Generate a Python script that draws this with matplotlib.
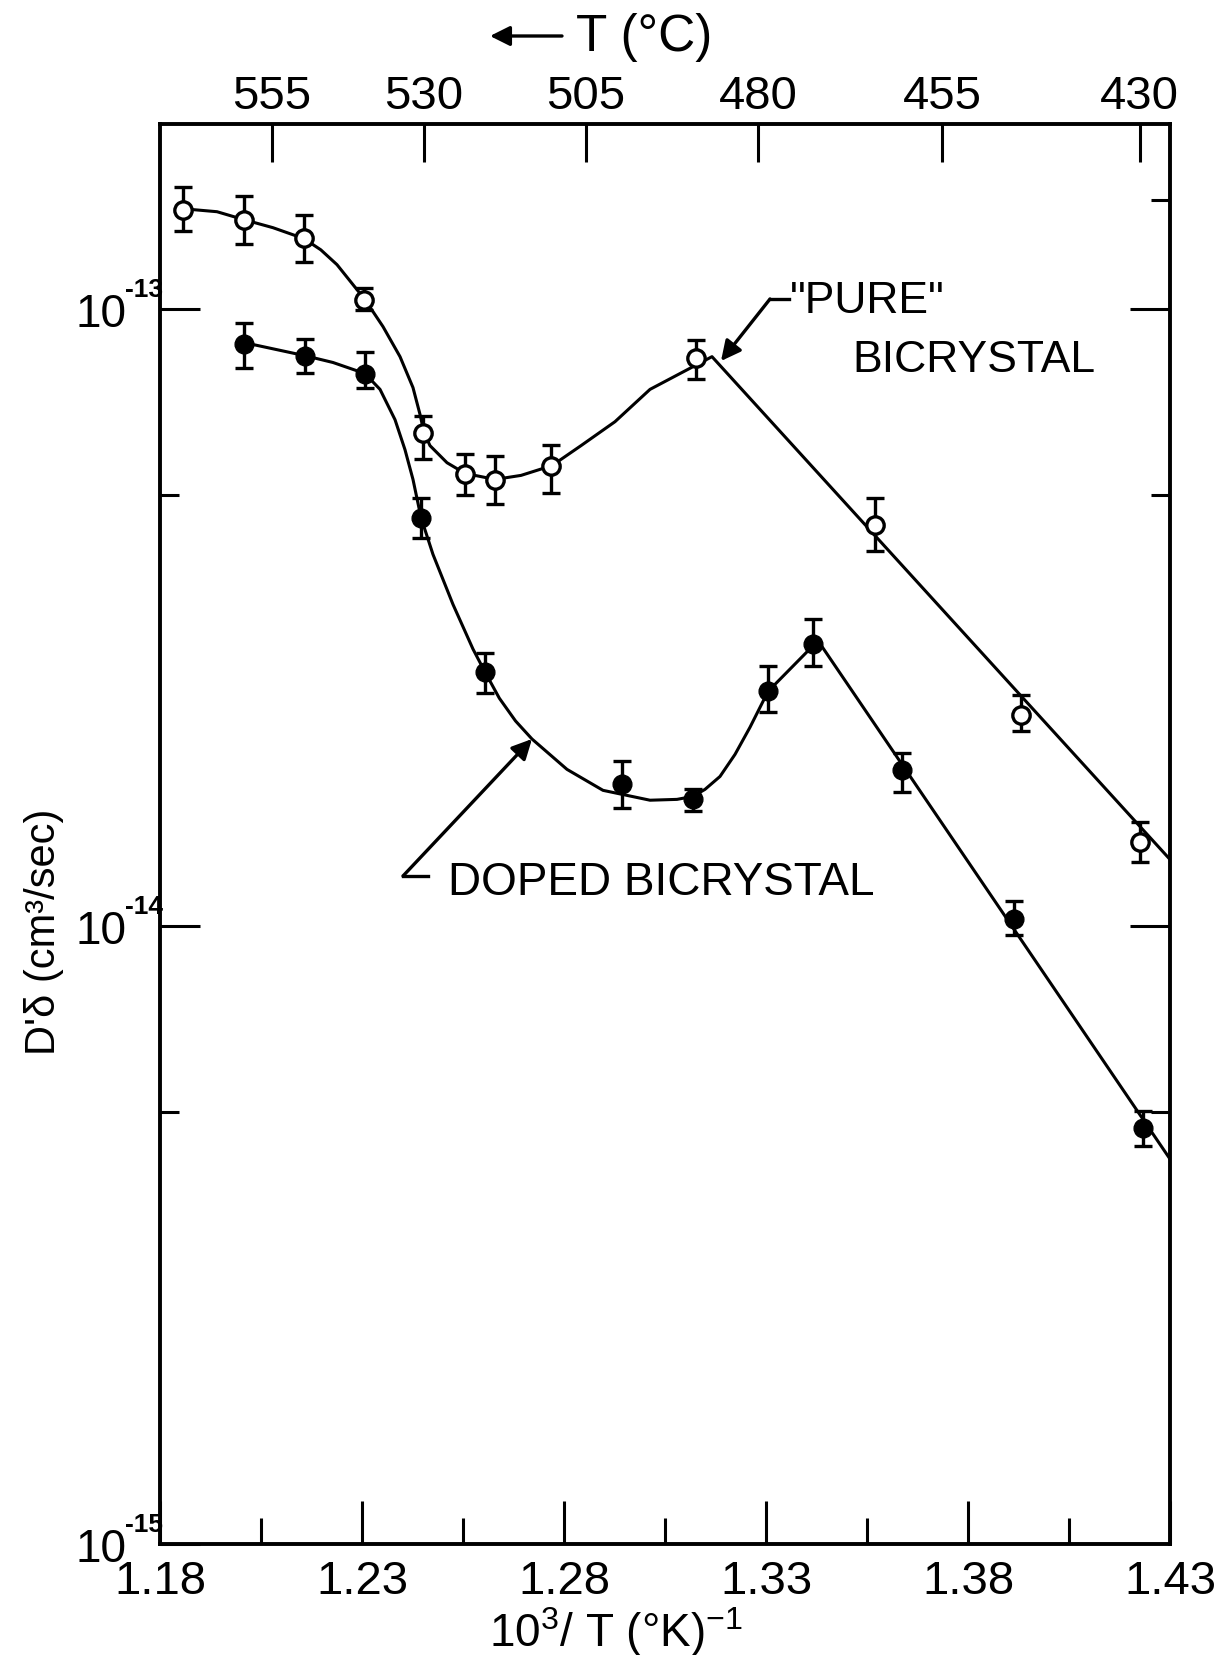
import matplotlib
matplotlib.use("Agg")
import matplotlib.pyplot as plt
from matplotlib.lines import Line2D
from matplotlib.ticker import FixedLocator, NullFormatter

plt.rcParams['font.family'] = ['Liberation Sans', 'DejaVu Sans']
plt.rcParams['mathtext.default'] = 'regular'

# "pure" bicrystal (open circles), x = 10^3/T, y = D'delta with error bar ends
pure_x = [1.1858, 1.2009, 1.2156, 1.2306, 1.2452, 1.2555, 1.2629, 1.2769, 1.3126, 1.3570, 1.3932, 1.4226]
pure_y = [1.446e-13, 1.390e-13, 1.301e-13, 1.034e-13, 6.28e-14, 5.39e-14, 5.27e-14, 5.56e-14, 8.32e-14, 4.47e-14, 2.20e-14, 1.370e-14]
pure_hi = [1.573e-13, 1.523e-13, 1.419e-13, 1.080e-13, 6.69e-14, 5.82e-14, 5.78e-14, 6.01e-14, 8.91e-14, 4.93e-14, 2.37e-14, 1.475e-14]
pure_lo = [1.337e-13, 1.274e-13, 1.188e-13, 9.94e-14, 5.70e-14, 5.00e-14, 4.82e-14, 5.02e-14, 7.69e-14, 4.05e-14, 2.07e-14, 1.269e-14]

# doped bicrystal (filled circles)
doped_x = [1.2009, 1.2159, 1.2307, 1.2447, 1.2605, 1.2943, 1.3120, 1.3306, 1.3417, 1.3636, 1.3914, 1.4233]
doped_y = [8.77e-14, 8.37e-14, 7.85e-14, 4.58e-14, 2.58e-14, 1.697e-14, 1.605e-14, 2.40e-14, 2.86e-14, 1.788e-14, 1.028e-14, 4.72e-15]
doped_hi = [9.46e-14, 8.93e-14, 8.50e-14, 4.94e-14, 2.77e-14, 1.851e-14, 1.666e-14, 2.64e-14, 3.14e-14, 1.909e-14, 1.099e-14, 5.02e-15]
doped_lo = [8.02e-14, 7.87e-14, 7.44e-14, 4.25e-14, 2.39e-14, 1.556e-14, 1.537e-14, 2.22e-14, 2.64e-14, 1.652e-14, 9.67e-15, 4.41e-15]

# hand drawn curves
pure_curve_x = [1.18569, 1.19411, 1.20079, 1.20797, 1.21564, 1.21980, 1.22381, 1.23074, 1.23520, 1.23941,
                1.24262, 1.24436, 1.24535, 1.24683, 1.25104, 1.25550, 1.26292, 1.26936, 1.27703,
                1.28421, 1.29262, 1.30129, 1.31663, 1.43]
pure_curve_y = [1.451e-13, 1.435e-13, 1.393e-13, 1.352e-13, 1.298e-13, 1.245e-13, 1.178e-13, 1.034e-13, 9.35e-14, 8.36e-14,
                7.45e-14, 6.74e-14, 6.30e-14, 6.00e-14, 5.63e-14, 5.41e-14, 5.29e-14, 5.37e-14, 5.57e-14,
                6.00e-14, 6.56e-14, 7.40e-14, 8.36e-14, 1.283e-14]
doped_curve_x = [1.20079, 1.21589, 1.22282, 1.23074, 1.23446, 1.23817, 1.24064, 1.24262, 1.24460,
                 1.24757, 1.25252, 1.25748, 1.26045, 1.26400, 1.26800, 1.27208, 1.28074, 1.28965, 1.30129,
                 1.30797, 1.31193, 1.31490, 1.31861, 1.32233, 1.32604, 1.33050, 1.34287, 1.43]
doped_curve_y = [8.81e-14, 8.39e-14, 8.18e-14, 7.85e-14, 7.40e-14, 6.61e-14, 5.91e-14, 5.29e-14, 4.59e-14,
                 4.00e-14, 3.32e-14, 2.81e-14, 2.58e-14, 2.34e-14, 2.15e-14, 2.01e-14, 1.795e-14, 1.660e-14, 1.600e-14,
                 1.605e-14, 1.623e-14, 1.666e-14, 1.748e-14, 1.898e-14, 2.10e-14, 2.40e-14, 2.90e-14, 4.20e-15]

bottom_ticks = [1.18, 1.23, 1.28, 1.33, 1.38, 1.43]
bottom_labels = ['1.18', '1.23', '1.28', '1.33', '1.38', '1.43']
bottom_minor = [1.205, 1.255, 1.305, 1.355, 1.405]
temps_c = [555, 530, 505, 480, 455, 430]
y_major = [1e-15, 1e-14, 1e-13]
y_exponents = ['-15', '-14', '-13']
left_minor = [5e-15, 5e-14]
right_major = [1e-14, 1e-13]
right_minor = [5e-15, 5e-14, 1.5e-13]

W, H = 1221, 1656
XLIM = (1.18, 1.43)
YLIM = (1e-15, 1.99e-13)


def fpos(px, py):
    return px / W, 1 - py / H


def main():
    fig = plt.figure(figsize=(W / 100, H / 100), dpi=100)
    ax = fig.add_axes([160 / W, 1 - 1545 / H, 1010 / W, 1420 / H])
    ax.set_yscale('log')
    ax.set_xlim(*XLIM)
    ax.set_ylim(*YLIM)

    lw = 2.2
    ax.plot(pure_curve_x, pure_curve_y, color='k', lw=lw, zorder=2)
    ax.plot(doped_curve_x, doped_curve_y, color='k', lw=lw, zorder=2)

    perr = [[y - lo for y, lo in zip(pure_y, pure_lo)], [hi - y for y, hi in zip(pure_y, pure_hi)]]
    derr = [[y - lo for y, lo in zip(doped_y, doped_lo)], [hi - y for y, hi in zip(doped_y, doped_hi)]]
    ax.errorbar(pure_x, pure_y, yerr=perr, fmt='none', ecolor='k', elinewidth=2.4,
                capsize=6.5, capthick=2.4, zorder=3)
    ax.errorbar(doped_x, doped_y, yerr=derr, fmt='none', ecolor='k', elinewidth=2.4,
                capsize=6.5, capthick=2.4, zorder=3)
    ax.plot(pure_x, pure_y, 'o', mfc='white', mec='k', ms=12.5, mew=2.4, zorder=4)
    ax.plot(doped_x, doped_y, 'o', mfc='k', mec='k', ms=13.5, zorder=4)

    # bottom / left ticks
    ax.xaxis.set_major_locator(FixedLocator(bottom_ticks))
    ax.set_xticklabels(bottom_labels)
    ax.xaxis.set_minor_locator(FixedLocator(bottom_minor))
    ax.yaxis.set_major_locator(FixedLocator(y_major))
    ax.set_yticklabels(['10'] * len(y_major))
    ax.yaxis.set_minor_locator(FixedLocator(left_minor))
    ax.yaxis.set_minor_formatter(NullFormatter())
    ax.tick_params(axis='x', which='major', direction='in', length=31, width=2.2,
                   labelsize=34, pad=11, top=False)
    ax.tick_params(axis='x', which='minor', direction='in', length=19, width=2.2, top=False)
    ax.tick_params(axis='y', which='major', direction='in', length=29, width=2.2,
                   labelsize=33, pad=24, right=False)
    ax.tick_params(axis='y', which='minor', direction='in', length=14, width=2.2, right=False)
    for s in ax.spines.values():
        s.set_linewidth(2.8)
    # small exponents next to the "10" tick labels
    for yv, ex in zip(y_major, y_exponents):
        ax.annotate(ex, xy=(0, yv), xycoords=('axes fraction', 'data'), xytext=(-35, 13),
                    textcoords='offset pixels', fontsize=19, fontweight='bold',
                    ha='left', va='baseline', annotation_clip=False)

    # top temperature axis
    axt = ax.twiny()
    axt.set_xlim(*XLIM)
    axt.set_xticks([1000.0 / (t + 273) for t in temps_c])
    axt.set_xticklabels([str(t) for t in temps_c])
    axt.tick_params(axis='x', direction='in', length=27, width=2.2, labelsize=34, pad=4)
    axt.xaxis.set_minor_locator(FixedLocator([]))

    # right side ticks
    axr = ax.twinx()
    axr.set_yscale('log')
    axr.set_ylim(*YLIM)
    axr.yaxis.set_major_locator(FixedLocator(right_major))
    axr.yaxis.set_minor_locator(FixedLocator(right_minor))
    axr.yaxis.set_major_formatter(NullFormatter())
    axr.yaxis.set_minor_formatter(NullFormatter())
    axr.tick_params(axis='y', which='major', direction='in', length=29, width=2.2)
    axr.tick_params(axis='y', which='minor', direction='in', length=14, width=2.2)
    for a in (axt, axr):
        for s in a.spines.values():
            s.set_visible(False)

    arrow = dict(arrowstyle='-|>', lw=2.4, color='k', mutation_scale=30, shrinkA=0, shrinkB=0)

    # labels
    ax.annotate('', xy=fpos(490, 37), xytext=fpos(562, 37), xycoords='figure fraction',
                textcoords='figure fraction', arrowprops=arrow)
    fig.text(*fpos(576, 37), 'T (\u00b0C)', fontsize=37, ha='left', va='center')
    fig.text(*fpos(616, 1632), '10$^3$/ T (\u00b0K)$^{-1}$', fontsize=33, ha='center', va='center')
    fig.text(*fpos(44, 932), "D'\u03b4 (cm\u00b3/sec)", fontsize=30, rotation=90,
             ha='center', va='center')

    # annotations
    fig.text(*fpos(448, 895), 'DOPED BICRYSTAL', fontsize=33, ha='left', va='baseline')
    fig.text(*fpos(790, 313), '"PURE"', fontsize=32, ha='left', va='baseline')
    fig.text(*fpos(852, 372), 'BICRYSTAL', fontsize=32, ha='left', va='baseline')

    ax.annotate('', xy=fpos(532, 740), xytext=fpos(403, 877), xycoords='figure fraction',
                textcoords='figure fraction', arrowprops=arrow)
    ax.annotate('', xy=fpos(721, 362), xytext=fpos(770, 300), xycoords='figure fraction',
                textcoords='figure fraction', arrowprops=arrow)
    for (x0, y0), (x1, y1) in [((403, 877), (428, 877)), ((770, 300), (789, 300))]:
        a, b = fpos(x0, y0)
        c, d = fpos(x1, y1)
        fig.add_artist(Line2D([a, c], [b, d], transform=fig.transFigure, color='k', lw=2.4))

    fig.savefig('out.png', dpi=100)


if __name__ == '__main__':
    main()
